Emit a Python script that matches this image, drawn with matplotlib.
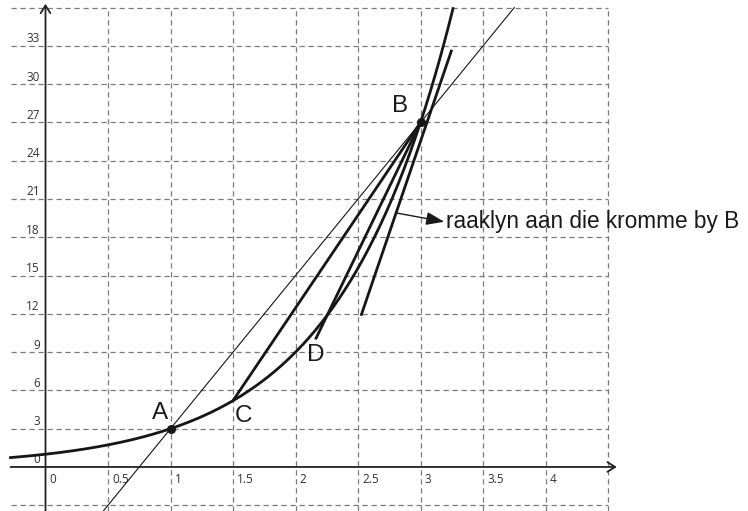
import numpy as np
import matplotlib
matplotlib.use('Agg')
import matplotlib.pyplot as plt

# curve y = 3^x, and the points
base = 3
curve_x_range = (-0.28, 3.26)

pt_names = ['A', 'B', 'C', 'D']
pt_x = [1.0, 3.0, 1.5, 2.25]
pt_y = [3.0, 27.0, 5.2, 11.8]

# secants / tangent segments (x values, y values)
ab_line = ([0.45, 3.75], [-3.6, 36.0])
cb_line = ([1.5, 3.0], [5.2, 27.0])
db_line = ([2.16, 3.0], [10.0, 27.0])
tangent = ([2.524, 3.25], [11.85, 32.7])

x_ticks = [0, 0.5, 1, 1.5, 2, 2.5, 3, 3.5, 4]
x_tick_labels = ['0', '0.5', '1', '1.5', '2', '2.5', '3', '3.5', '4']
y_ticks = [0, 3, 6, 9, 12, 15, 18, 21, 24, 27, 30, 33]
y_tick_labels = [str(v) for v in y_ticks]

grid_x = [0.5, 1, 1.5, 2, 2.5, 3, 3.5, 4, 4.5]
grid_y = [-3, 3, 6, 9, 12, 15, 18, 21, 24, 27, 30, 33, 36]

label_pos = {'A': (0.913, 4.2), 'B': (2.835, 28.3), 'C': (1.581, 4.0), 'D': (2.162, 8.8)}
note = 'raaklyn aan die kromme by B'

fig = plt.figure(figsize=(7.48, 5.11), dpi=100)
ax = fig.add_axes([0, 0, 1, 1])
ax.set_xlim(-0.364, 5.62)
ax.set_ylim(-3.45, 36.6)
ax.axis('off')

grid_kw = dict(color='#7a7a7a', lw=0.9, linestyles=(0, (4.2, 3)), zorder=1)
ax.vlines(grid_x, -3.45, 36, **grid_kw)
ax.hlines(grid_y, -0.28, 4.5, **grid_kw)

# axes with open arrowheads
arrow_kw = dict(arrowstyle='->,head_length=0.55,head_width=0.35', lw=1.3, color='#222222',
                shrinkA=0, shrinkB=0)
ax.annotate('', xy=(4.57, 0), xytext=(-0.28, 0), arrowprops=arrow_kw, zorder=3)
ax.annotate('', xy=(0, 36.3), xytext=(0, -3.45), arrowprops=arrow_kw, zorder=3)

tick_font = dict(family=['Open Sans', 'DejaVu Sans'], fontsize=8.5, color='#333333')
for x, lab in zip(x_ticks, x_tick_labels):
    ax.text(x + 0.035, -0.5, lab, ha='left', va='top', **tick_font)
for y, lab in zip(y_ticks, y_tick_labels):
    ax.text(-0.045, y + 0.05, lab, ha='right', va='bottom', **tick_font)

xs = np.linspace(curve_x_range[0], curve_x_range[1], 300)
ax.plot(xs, base ** xs, color='#161616', lw=2.0, zorder=4)

ax.plot(*ab_line, color='#161616', lw=0.8, zorder=4)
for seg in (cb_line, db_line, tangent):
    ax.plot(*seg, color='#161616', lw=2.0, zorder=4, solid_capstyle='butt')

ax.scatter([pt_x[0], pt_x[1]], [pt_y[0], pt_y[1]], s=30, color='#161616', zorder=5)

big_font = dict(family=['Liberation Sans Narrow', 'Liberation Sans'], fontsize=17.5, color='#1a1a1a')
for name in pt_names:
    px, py = label_pos[name]
    ax.text(px, py, name, ha='center', va='center', **big_font)

ax.annotate('', xy=(3.19, 19.22), xytext=(2.8, 19.92),
            arrowprops=dict(arrowstyle='-|>,head_length=1.1,head_width=0.4',
                            lw=1.0, color='#1a1a1a', shrinkA=0, shrinkB=0), zorder=5)
ax.text(3.205, 19.22, note, ha='left', va='center',
        family=['Liberation Sans', 'DejaVu Sans'], fontsize=16.3, color='#1a1a1a')

fig.savefig('out.png', dpi=100)
